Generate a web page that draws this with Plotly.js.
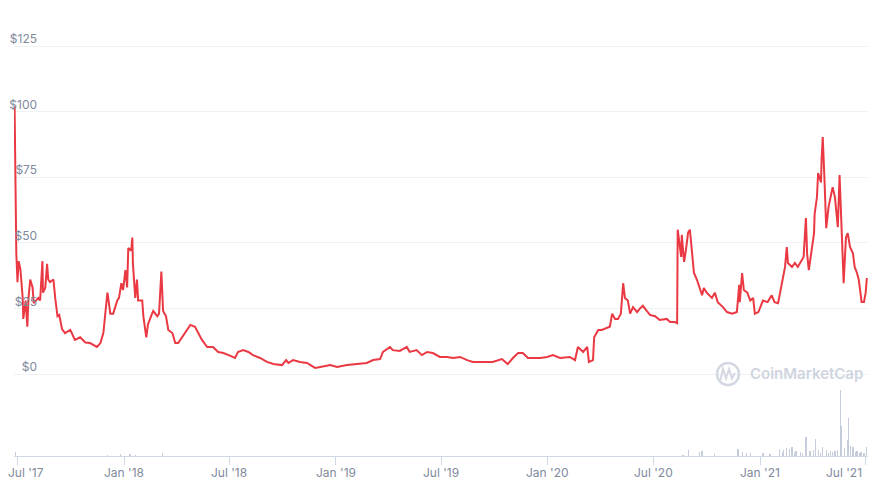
<!DOCTYPE html>
<html>
<head>
<meta charset="utf-8">
<script src="https://cdn.plot.ly/plotly-3.0.1.min.js"></script>
<style>
  html, body { margin: 0; padding: 0; background: #ffffff; }
  #chart { width: 871px; height: 487px; }
</style>
</head>
<body>
<div id="chart"></div>
<script>
// ---- Price series (USD) ----
const priceDates = [
  "2017-06-26","2017-06-27","2017-06-28","2017-06-29","2017-07-01","2017-07-03","2017-07-06","2017-07-10","2017-07-11","2017-07-15",
  "2017-07-18","2017-07-20","2017-07-23","2017-07-27","2017-07-29","2017-08-02","2017-08-06","2017-08-09","2017-08-13","2017-08-14",
  "2017-08-18","2017-08-21","2017-08-23","2017-08-26","2017-09-01","2017-09-04","2017-09-08","2017-09-11","2017-09-16","2017-09-21",
  "2017-09-30","2017-10-08","2017-10-17","2017-10-26","2017-11-03","2017-11-15","2017-11-21","2017-11-26","2017-12-03","2017-12-05",
  "2017-12-08","2017-12-13","2017-12-20","2017-12-23","2017-12-27","2017-12-30","2018-01-03","2018-01-06","2018-01-08","2018-01-13",
  "2018-01-15","2018-01-16","2018-01-20","2018-01-23","2018-01-25","2018-02-01","2018-02-03","2018-02-08","2018-02-11","2018-02-18",
  "2018-02-20","2018-02-27","2018-03-02","2018-03-06","2018-03-09","2018-03-14","2018-03-18","2018-03-25","2018-03-30","2018-04-04",
  "2018-04-11","2018-04-16","2018-04-25","2018-05-03","2018-05-08","2018-05-15","2018-05-24","2018-06-03","2018-06-12","2018-06-21",
  "2018-07-03","2018-07-11","2018-07-16","2018-07-25","2018-08-03","2018-08-11","2018-08-23","2018-09-04","2018-09-15","2018-09-30",
  "2018-10-07","2018-10-11","2018-10-19","2018-10-31","2018-11-12","2018-11-26","2018-12-05","2018-12-22","2019-01-03","2019-01-20",
  "2019-02-06","2019-02-23","2019-03-06","2019-03-18","2019-03-23","2019-04-04","2019-04-09","2019-04-21","2019-05-03","2019-05-08",
  "2019-05-20","2019-05-29","2019-06-07","2019-06-17","2019-06-29","2019-07-11","2019-07-22","2019-08-03","2019-08-15","2019-08-25",
  "2019-09-11","2019-09-28","2019-10-14","2019-10-24","2019-11-02","2019-11-11","2019-11-19","2019-11-28","2019-12-07","2019-12-19",
  "2019-12-31","2020-01-10","2020-01-22","2020-02-08","2020-02-17","2020-02-22","2020-03-02","2020-03-09","2020-03-12","2020-03-19",
  "2020-03-21","2020-03-28","2020-04-03","2020-04-12","2020-04-17","2020-04-21","2020-04-26","2020-05-01","2020-05-06","2020-05-10",
  "2020-05-13","2020-05-18","2020-05-22","2020-05-27","2020-06-03","2020-06-08","2020-06-13","2020-06-20","2020-06-25","2020-07-04",
  "2020-07-12","2020-07-24","2020-07-30","2020-08-07","2020-08-11","2020-08-12","2020-08-18","2020-08-19","2020-08-23","2020-08-26",
  "2020-08-30","2020-09-02","2020-09-06","2020-09-09","2020-09-14","2020-09-19","2020-09-23","2020-09-26","2020-10-01","2020-10-10",
  "2020-10-15","2020-10-20","2020-10-29","2020-11-05","2020-11-14","2020-11-22","2020-11-26","2020-11-27","2020-12-01","2020-12-04",
  "2020-12-10","2020-12-15","2020-12-20","2020-12-23","2020-12-29","2021-01-06","2021-01-14","2021-01-21","2021-01-26","2021-02-01",
  "2021-02-08","2021-02-13","2021-02-16","2021-02-18","2021-02-25","2021-03-02","2021-03-07","2021-03-14","2021-03-17","2021-03-21",
  "2021-03-23","2021-03-26","2021-03-31","2021-04-04","2021-04-05","2021-04-09","2021-04-11","2021-04-16","2021-04-17","2021-04-19",
  "2021-04-22","2021-04-24","2021-04-25","2021-04-29","2021-05-03","2021-05-06","2021-05-10","2021-05-13","2021-05-15","2021-05-18",
  "2021-05-22","2021-05-24","2021-05-25","2021-05-29","2021-06-01","2021-06-05","2021-06-10","2021-06-13","2021-06-17","2021-06-20",
  "2021-06-25","2021-06-29","2021-07-02","2021-07-04"
];
const priceValues = [
  102,80,55,46,35,43,40,29,21,28,
  18,29,36,33,27,28,29,28,43,31,
  33,42,36,35,36,29,22,22.5,17,15.6,
  16.8,13,14,12,11.8,10.3,11.8,15.6,31,28,
  23,23,28,29,34.6,32,39.6,33,48,47,
  52,42,29,36,28,28,22,14,19,23,
  24,22,23,39,24,22,16.8,15.6,11.8,11.8,
  14,15.6,18.7,18,16,13,10.3,10.3,8.4,8,
  6.9,6.1,8.4,9.1,8.4,7.2,6.1,4.6,3.8,3.4,
  5.3,4.2,5.3,4.6,4.2,2.3,2.7,3.4,2.7,3.4,
  3.8,4.2,5.3,5.7,8.4,10.3,9.1,8.8,10.3,8.4,
  9.1,7.2,8.4,8,6.5,6.5,6.1,6.5,5.3,4.6,
  4.6,4.6,5.7,3.8,6.1,8,8,6.1,6.1,6.1,
  6.5,7.2,6.1,6.5,5.3,10.3,8.4,10.3,4.6,5.3,
  14,16.8,16.8,17.5,18,23,21,21,23,34.6,
  29,28,23,25.5,23.6,25,26,24,22.5,22,
  20.6,21,19.8,19.8,19.4,55,44.6,53,42.7,47,
  54,55,46,38.5,36,33,30,32.8,31,29,
  31,27.4,25.5,23.6,23,23.6,34,27.4,38.5,32,
  31,28,29,23,23.6,28,27.4,30,27.4,27,
  34.6,40.8,48.4,42.3,40.8,42.3,40.8,43.4,44.6,59.4,
  46,39.6,48.4,53.7,61,67.4,76.6,73,81.5,90.3,
  74,65,55.6,63.6,67.4,71.2,67.4,61,56,75.8,
  56,40.8,34.6,52,53.7,48.4,46,40.8,38.5,36,
  27.4,27.4,31,36.6
];

// ---- Trading volume (relative units) ----
const volumeDates = [
  "2017-06-28","2017-12-03","2017-12-25","2018-01-11","2018-01-20","2018-03-08",
  "2020-08-21","2020-08-30","2020-09-19","2020-09-23","2020-10-15","2020-11-24","2020-12-01","2020-12-08","2020-12-15",
  "2021-01-06","2021-01-18","2021-02-04","2021-02-08","2021-02-11","2021-02-16","2021-02-21","2021-02-25","2021-03-01",
  "2021-03-04","2021-03-11","2021-03-15","2021-03-21","2021-03-28","2021-04-03","2021-04-07","2021-04-12","2021-04-15",
  "2021-04-19","2021-04-25","2021-04-29","2021-05-03","2021-05-06","2021-05-10","2021-05-15","2021-05-20","2021-05-22",
  "2021-05-27","2021-05-31","2021-06-03","2021-06-06","2021-06-10","2021-06-14","2021-06-17","2021-06-21","2021-06-24",
  "2021-06-29","2021-07-04"
];
const volumeValues = [
  4,1,1.5,1.5,1,3,
  1,6,4,5,2,7,4,3,3,
  3,2,7,4,6,8,7,9,3,
  5,4,3,19,5,6,17,6,3,
  9,6,3,5,4,5,6,65,30,
  8,16,37,10,9,4,5,3,4,
  3,9
];

// ---- Axis ticks ----
const xTickVals = ["2017-07-01","2018-01-01","2018-07-01","2019-01-01","2019-07-01","2020-01-01","2020-07-01","2021-01-01","2021-07-01"];
const xTickText = ["Jul '17","Jan '18","Jul '18","Jan '19","Jul '19","Jan '20","Jul '20","Jan '21","Jul '21"];
const yTickVals = [0, 25, 50, 75, 100, 125];
const yTickText = ["$0", "$25", "$50", "$75", "$100", "$125"];

const gray = "#808a9d";
const volMax = Math.max(...volumeValues);

const traces = [
  {
    type: "bar",
    x: volumeDates,
    y: volumeValues,
    yaxis: "y2",
    marker: { color: "#c5ccdb", line: { width: 0 } },
    width: 2 * 86400000,
    hoverinfo: "skip",
    showlegend: false
  },
  {
    type: "scatter",
    mode: "lines",
    x: priceDates,
    y: priceValues,
    yaxis: "y",
    line: { color: "#ea3943", width: 2 },
    showlegend: false
  }
];

// x tick labels drawn as annotations so the first/last can be nudged inward (as in the reference)
const lastIdx = xTickVals.length - 1;
const xLabelAnnotations = xTickVals.map((d, i) => ({
  xref: "x", yref: "paper",
  x: d, y: 0,
  xanchor: i === 0 ? "left" : (i === lastIdx ? "right" : "center"),
  yanchor: "top",
  xshift: i === 0 ? -11 : (i === lastIdx ? -1 : 0),
  yshift: -7,
  text: xTickText[i],
  showarrow: false,
  font: { size: 12, color: gray }
}));

const layout = {
  width: 871,
  height: 487,
  margin: { l: 14, r: 3, t: 0, b: 31 },
  paper_bgcolor: "#ffffff",
  plot_bgcolor: "#ffffff",
  font: { family: "Inter, 'Noto Sans', sans-serif", size: 12, color: gray },
  showlegend: false,
  bargap: 0,
  xaxis: {
    type: "date",
    range: ["2017-06-25", "2021-07-06"],
    tickvals: xTickVals,
    showticklabels: false,
    showgrid: false,
    zeroline: false,
    showline: true,
    linecolor: "#cfd6e4",
    linewidth: 1,
    ticks: "outside",
    ticklen: 8,
    tickcolor: "#cfd6e4",
    fixedrange: true
  },
  yaxis: {
    range: [-31.25, 142.53],
    tickvals: yTickVals,
    ticktext: yTickText,
    showgrid: true,
    gridcolor: "#eff2f5",
    gridwidth: 1,
    zeroline: false,
    showline: false,
    ticks: "",
    anchor: "free",
    position: 0.027,
    ticklabelshift: -7,
    tickfont: { size: 12, color: gray },
    fixedrange: true
  },
  yaxis2: {
    overlaying: "y",
    range: [0, volMax * 456 / 66],
    visible: false,
    showgrid: false,
    zeroline: false,
    fixedrange: true
  },
  shapes: [
    {
      type: "circle", xref: "paper", yref: "paper",
      x0: 0.8232, x1: 0.8489, y0: 0.1557, y1: 0.2039,
      line: { color: "#d3d8e2", width: 2.5 }
    },
    {
      type: "path", xref: "paper", yref: "paper",
      path: "M 0.8267,0.163 L 0.8302,0.191 L 0.8337,0.170 L 0.8372,0.191 L 0.8407,0.170 L 0.8442,0.182",
      line: { color: "#d3d8e2", width: 2 }
    }
  ],
  annotations: xLabelAnnotations.concat([
    {
      xref: "paper", yref: "paper",
      x: 0.8595, y: 0.18, xanchor: "left", yanchor: "middle",
      text: "CoinMarketCap",
      showarrow: false,
      font: { size: 15, color: "#cfd5df", family: "Inter, 'Noto Sans', sans-serif", weight: 600 }
    }
  ])
};

Plotly.newPlot("chart", traces, layout, { displayModeBar: false, staticPlot: true });
</script>
</body>
</html>
